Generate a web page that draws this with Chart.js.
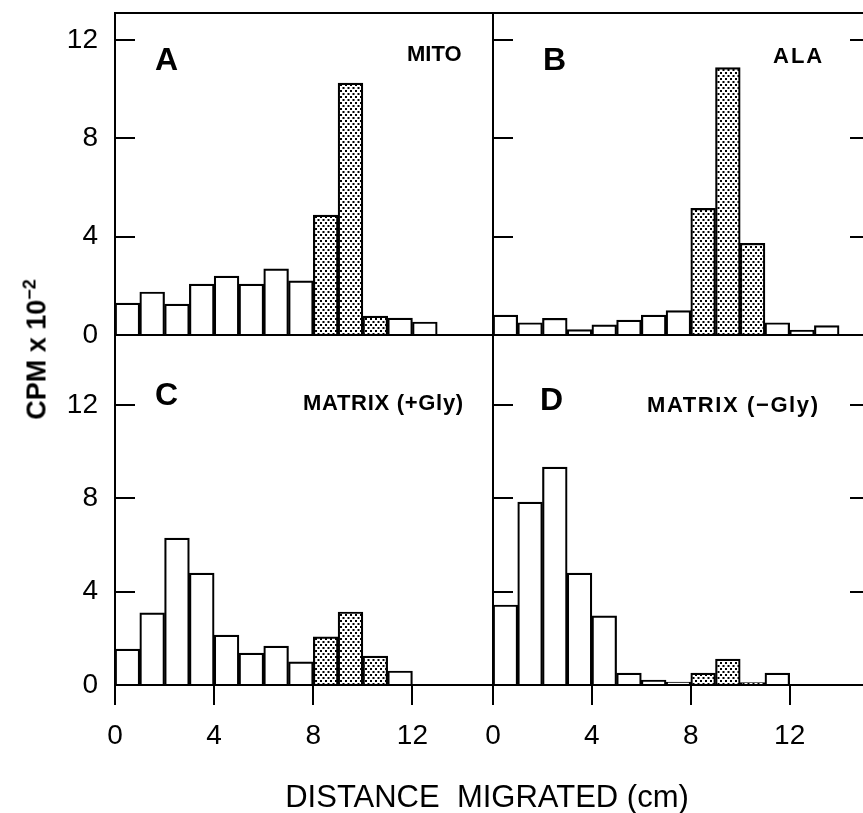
<!DOCTYPE html>
<html>
<head>
<meta charset="utf-8">
<script src="https://cdn.jsdelivr.net/npm/chart.js@4.4.1/dist/chart.umd.min.js"></script>
<style>
html, body { margin: 0; padding: 0; background: #fff; overflow: hidden; }
#fig { position: relative; width: 863px; height: 813px; overflow: hidden; font-family: 'Liberation Sans', Arial, sans-serif; color: #000; }
#fig canvas { position: absolute; }
.lbl { position: absolute; line-height: 1; white-space: nowrap; font-weight: bold; }
</style>
</head>
<body>
<div id="fig">
  <canvas id="panelC" width="493" height="493" style="left:0;top:320px"></canvas>
  <canvas id="panelD" width="420" height="493" style="left:470px;top:320px"></canvas>
  <canvas id="panelA" width="493" height="360" style="left:0;top:0"></canvas>
  <canvas id="panelB" width="420" height="360" style="left:470px;top:0"></canvas>

  <div class="lbl" style="left:155px;top:43px;font-size:32px">A</div>
  <div class="lbl" style="left:543px;top:43px;font-size:32px">B</div>
  <div class="lbl" style="left:155px;top:378px;font-size:32px">C</div>
  <div class="lbl" style="left:540px;top:383px;font-size:32px">D</div>
  <div class="lbl" style="left:407px;top:43px;font-size:22px">MITO</div>
  <div class="lbl" style="left:773px;top:45px;font-size:22px;letter-spacing:2px">ALA</div>
  <div class="lbl" style="left:303px;top:392px;font-size:22px;letter-spacing:0.7px">MATRIX (+Gly)</div>
  <div class="lbl" style="left:647px;top:394px;font-size:22px;letter-spacing:1.6px">MATRIX (−Gly)</div>

  <div style="position:absolute;left:-67px;top:331px;width:200px;line-height:30px;text-align:center;font-size:27px;font-weight:bold;transform:rotate(-90deg)">CPM x 10<sup style="font-size:18px">−2</sup></div>
  <div style="position:absolute;left:187px;top:781px;width:600px;line-height:1;text-align:center;font-size:31px">DISTANCE&nbsp; MIGRATED (cm)</div>
</div>

<script>
// 1 cm slices along the gel (slice centres, cm)
const sliceCm = [0.5, 1.5, 2.5, 3.5, 4.5, 5.5, 6.5, 7.5, 8.5, 9.5, 10.5, 11.5, 12.5, 13.5];
const xTicks = [0, 4, 8, 12];
const yTicks = [0, 4, 8, 12];

// CPM x 10^-2 per slice
const mitoCpm        = [1.30, 1.75, 1.26, 2.07, 2.40, 2.07, 2.69, 2.20, 4.88, 10.25, 0.77, 0.69, 0.53];
const alaCpm         = [0.81, 0.50, 0.68, 0.22, 0.41, 0.61, 0.81, 0.99, 5.15, 10.88, 3.73, 0.50, 0.20, 0.38];
const matrixGlyCpm   = [1.54, 3.09, 6.30, 4.80, 2.14, 1.37, 1.67, 0.99, 2.06, 3.13, 1.24, 0.60];
const matrixNoGlyCpm = [3.43, 7.84, 9.34, 4.80, 2.96, 0.51, 0.21, 0.13, 0.51, 1.11, 0.10, 0.51];

// slices drawn stippled
const mitoShaded        = [8, 9, 10];
const alaShaded         = [8, 9, 10];
const matrixGlyShaded   = [8, 9, 10];
const matrixNoGlyShaded = [8, 9, 10];

const xMax = 15.25;

Chart.defaults.font.family = "'Liberation Sans', Arial, sans-serif";
Chart.defaults.color = '#000';

function stipple() {
    const c = document.createElement('canvas');
    c.width = 5; c.height = 6;
    const g = c.getContext('2d');
    g.fillStyle = '#fff'; g.fillRect(0, 0, 5, 6);
    g.fillStyle = '#000';
    g.fillRect(0, 0, 2, 2);
    g.fillRect(2.5, 3, 2, 2);
    return g.createPattern(c, 'repeat');
}

const fixTicks = list => scale => { scale.ticks = list.map(v => ({ value: v })); };
const edge = { display: true, color: '#000', width: 2, z: 1 };
// keep the plot area where we put it (no extra room for tick labels)
const fitTo = (w, h) => s => {
    if (w !== null) s.width = w;
    if (h !== null) s.height = h;
    s.paddingTop = 0; s.paddingBottom = 0; s.paddingLeft = 0; s.paddingRight = 0;
};

function panel(id, values, shaded, cfg) {
    const dots = stipple();
    const scales = {
        x: {
            type: 'linear', min: 0, max: xMax, offset: false,
            grid: { display: cfg.xLabels, drawOnChartArea: false, offset: false, color: '#000', lineWidth: 2, tickLength: 20, z: 1 },
            border: edge,
            ticks: { display: cfg.xLabels, padding: 14, font: { size: 28 }, maxRotation: 0 },
            afterBuildTicks: fixTicks(xTicks),
            afterFit: fitTo(null, cfg.xHeight)
        },
        y: {
            type: 'linear', position: 'left', min: 0, max: cfg.yMax,
            grid: { drawOnChartArea: false, color: '#000', lineWidth: 2, tickLength: -20, z: 1 },
            border: edge,
            ticks: { display: cfg.yLabels, padding: 37, font: { size: 28 } },
            afterBuildTicks: fixTicks(yTicks),
            afterFit: fitTo(cfg.yWidth, null)
        }
    };
    if (cfg.top) {
        scales.xTop = {
            type: 'linear', position: 'top', min: 0, max: xMax,
            grid: { display: false }, border: edge, ticks: { display: false },
            afterFit: fitTo(null, 0)
        };
    }
    if (cfg.right) {
        scales.yRight = {
            type: 'linear', position: 'right', min: 0, max: cfg.yMax,
            grid: { drawOnChartArea: false, color: '#000', lineWidth: 2, tickLength: -20, z: 1 },
            border: edge, ticks: { display: false },
            afterBuildTicks: fixTicks(yTicks),
            afterFit: fitTo(0, null)
        };
    }
    return new Chart(document.getElementById(id), {
        type: 'bar',
        data: {
            datasets: [{
                data: values.map((v, i) => ({ x: sliceCm[i], y: v })),
                backgroundColor: values.map((v, i) => shaded.includes(i) ? dots : '#fff'),
                borderColor: '#000',
                borderWidth: 2.2,
                barPercentage: 1,
                categoryPercentage: 1
            }]
        },
        options: {
            responsive: false,
            animation: false,
            devicePixelRatio: 1,
            layout: { padding: cfg.pad },
            plugins: { legend: { display: false }, tooltip: { enabled: false } },
            scales: scales
        }
    });
}

panel('panelA', mitoCpm, mitoShaded,
    { xLabels: false, yLabels: true, yMax: 13.1, yWidth: 115, xHeight: 25, top: true, right: false, pad: { top: 13, right: 0, left: 0, bottom: 0 } });
panel('panelB', alaCpm, alaShaded,
    { xLabels: false, yLabels: false, yMax: 13.1, yWidth: 23, xHeight: 25, top: true, right: true, pad: { top: 13, right: 20, left: 0, bottom: 0 } });
panel('panelC', matrixGlyCpm, matrixGlyShaded,
    { xLabels: true, yLabels: true, yMax: 14.96, yWidth: 115, xHeight: 128, top: false, right: false, pad: { top: 16, right: 0, left: 0, bottom: 0 } });
panel('panelD', matrixNoGlyCpm, matrixNoGlyShaded,
    { xLabels: true, yLabels: false, yMax: 14.96, yWidth: 23, xHeight: 128, top: false, right: true, pad: { top: 16, right: 20, left: 0, bottom: 0 } });
</script>
</body>
</html>
